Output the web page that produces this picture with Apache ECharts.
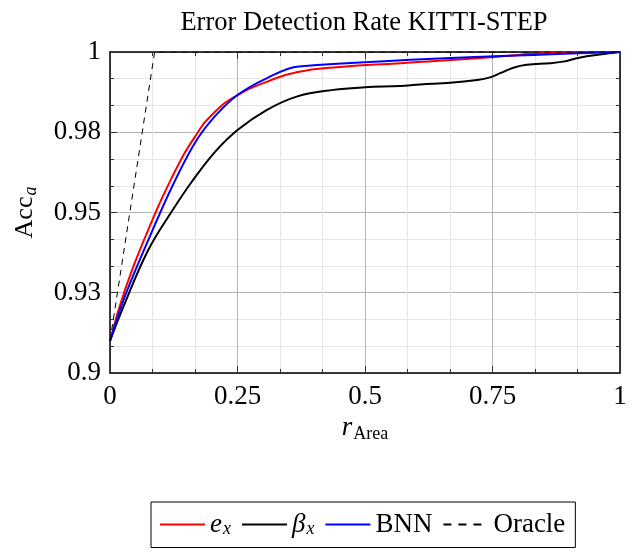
<!DOCTYPE html>
<html>
<head>
<meta charset="utf-8">
<script src="https://cdn.jsdelivr.net/npm/echarts@6/dist/echarts.min.js"></script>
<style>
  html, body { margin: 0; padding: 0; background: #fff; }
  #chart { width: 644px; height: 553px; }
</style>
</head>
<body>
<div id="chart"></div>
<script>
// tick labels as printed on the figure
const xTickLabels = ['0', '0.25', '0.5', '0.75', '1'];
const yTickLabels = ['0.9', '0.93', '0.95', '0.98', '1'];

// [r_Area, Acc_a]
const exPoints = [
  [0, 0.91], [0.03, 0.9262], [0.075, 0.9446], [0.121, 0.9608], [0.167, 0.9737],
  [0.206, 0.9814], [0.25, 0.9866], [0.307, 0.9907], [0.366, 0.9937], [0.45, 0.9953],
  [0.57, 0.9965], [0.7, 0.9978], [0.8, 0.9991], [0.87, 0.9998], [1, 1]
];
const betaPoints = [
  [0, 0.91], [0.029, 0.9217], [0.075, 0.9383], [0.121, 0.9503], [0.16, 0.9595],
  [0.206, 0.9689], [0.25, 0.9757], [0.307, 0.9819], [0.366, 0.9861], [0.438, 0.9882],
  [0.5, 0.989], [0.569, 0.9894], [0.608, 0.9899], [0.667, 0.9904], [0.72, 0.9913],
  [0.745, 0.9921], [0.765, 0.9934], [0.791, 0.9951], [0.817, 0.996], [0.863, 0.9965],
  [0.888, 0.997], [0.92, 0.9982], [0.96, 0.9992], [1, 1]
];
const bnnPoints = [
  [0, 0.91], [0.029, 0.9238], [0.075, 0.9414], [0.121, 0.9578], [0.167, 0.9718],
  [0.206, 0.9800], [0.25, 0.9866], [0.307, 0.9918], [0.37, 0.9955], [1, 1]
];
const oraclePoints = [[0, 0.91], [0.0875, 1], [1, 1]];

const seriesNames = ['e_x', 'β_x', 'BNN', 'Oracle'];
const legendText = {
  'e_x': '{i|e}{sub|x}',
  'β_x': '{i|β}{sub|x}',
  'BNN': '{t|BNN}',
  'Oracle': '{t|Oracle}'
};

const font = 'Liberation Serif';
const chart = echarts.init(document.getElementById('chart'));

const tickStyle = { color: '#333', width: 1 };
const baseAxis = {
  type: 'value',
  min: 0,
  max: 1,
  interval: 0.25,
  axisLine: { show: true, onZero: false, lineStyle: { color: '#000', width: 1.5 } },
  axisTick: { show: true, inside: true, length: 7, lineStyle: tickStyle },
  minorTick: { show: true, splitNumber: 3, length: 4, lineStyle: tickStyle },
  splitLine: { show: false },
  minorSplitLine: { show: false },
  axisLabel: { show: false }
};

const option = {
  animation: false,
  title: {
    text: 'Error Detection Rate KITTI-STEP',
    left: 359,
    top: 5,
    textAlign: 'center',
    textStyle: { fontFamily: font, fontWeight: 'normal', fontSize: 26.5, color: '#000' }
  },
  grid: { left: 110, top: 52, width: 510, height: 321 },
  legend: {
    data: [
      { name: 'e_x' },
      { name: 'β_x' },
      { name: 'BNN' },
      { name: 'Oracle', lineStyle: { type: [8, 7] } }
    ],
    left: 151,
    top: 502,
    padding: [9, 10, 9, 8],
    itemGap: 10,
    itemWidth: 45,
    itemHeight: 14,
    borderColor: '#000',
    borderWidth: 1,
    itemStyle: { opacity: 0 },
    formatter: (name) => legendText[name],
    textStyle: {
      fontFamily: font,
      fontSize: 27,
      color: '#000',
      rich: {
        i: { fontFamily: font, fontStyle: 'italic', fontSize: 27, color: '#000' },
        sub: { fontFamily: font, fontStyle: 'italic', fontSize: 18, color: '#000', verticalAlign: 'bottom', padding: [10, 0, 0, 1] },
        t: { fontFamily: font, fontSize: 27, color: '#000' }
      }
    }
  },
  xAxis: [
    Object.assign({}, baseAxis, {
      position: 'bottom',
      name: '{i|r}{sub|Area}',
      nameLocation: 'middle',
      nameGap: 40,
      nameTextStyle: {
        rich: {
          i: { fontFamily: font, fontStyle: 'italic', fontSize: 27, color: '#000' },
          sub: { fontFamily: font, fontSize: 18, color: '#000', padding: [12, 0, 0, 1] }
        }
      },
      splitLine: { show: true, lineStyle: { color: '#b3b3b3', width: 1 } },
      minorSplitLine: { show: true, lineStyle: { color: '#e6e6e6', width: 1 } },
      axisLabel: {
        show: true,
        margin: 10,
        fontFamily: font,
        fontSize: 27,
        color: '#000',
        formatter: (v, i) => xTickLabels[i]
      }
    }),
    Object.assign({}, baseAxis, { position: 'top' })
  ],
  yAxis: [
    Object.assign({}, baseAxis, {
      position: 'left',
      min: 0.9,
      max: 1,
      interval: 0.025,
      name: '{t|Acc}{sub|a}',
      nameLocation: 'middle',
      nameRotate: 90,
      nameGap: 70,
      nameTextStyle: {
        rich: {
          t: { fontFamily: font, fontSize: 26, color: '#000' },
          sub: { fontFamily: font, fontStyle: 'italic', fontSize: 18, color: '#000', padding: [12, 0, 0, 1] }
        }
      },
      splitLine: { show: true, lineStyle: { color: '#b3b3b3', width: 1 } },
      minorSplitLine: { show: true, lineStyle: { color: '#e6e6e6', width: 1 } },
      axisLabel: {
        show: true,
        margin: 9,
        fontFamily: font,
        fontSize: 27,
        color: '#000',
        formatter: (v, i) => yTickLabels[i]
      }
    }),
    Object.assign({}, baseAxis, { position: 'right', min: 0.9, max: 1, interval: 0.025 })
  ],
  series: [
    {
      name: 'e_x', type: 'line', data: exPoints, showSymbol: false, symbol: 'none',
      smooth: 0.5, color: '#ff0000',
      lineStyle: { color: '#ff0000', width: 2 }
    },
    {
      name: 'β_x', type: 'line', data: betaPoints, showSymbol: false, symbol: 'none',
      smooth: 0.4, color: '#000000',
      lineStyle: { color: '#000000', width: 2 }
    },
    {
      name: 'BNN', type: 'line', data: bnnPoints, showSymbol: false, symbol: 'none',
      smooth: 0.35, color: '#0000ff',
      lineStyle: { color: '#0000ff', width: 2 }
    },
    {
      name: 'Oracle', type: 'line', data: oraclePoints, showSymbol: false, symbol: 'none',
      color: '#000000',
      lineStyle: { color: '#000000', width: 1, type: [6, 5] }
    }
  ]
};

chart.setOption(option);
</script>
</body>
</html>
